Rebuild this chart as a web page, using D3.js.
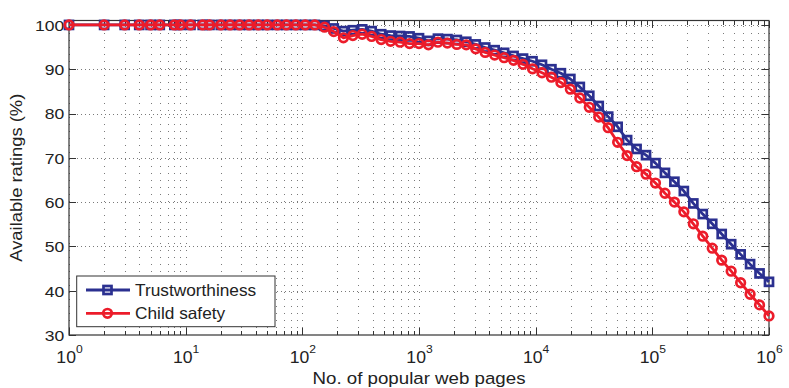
<!DOCTYPE html>
<html><head><meta charset="utf-8">
<script src="https://cdn.jsdelivr.net/npm/d3@7"></script>
<style>body{margin:0;background:#fff} svg{display:block}</style>
</head><body><svg id="c" width="789" height="388"></svg>
<script>
// ---- data ----
const pages = [1,2,3,4,5,6,8,9,11,14,16,20,24,29,35,42,50,61,73,88,106,128,
  155,186,225,271,326,393,474,571,688,830,1000,1205,1453,1751,2110,2543,3065,3694,
  4452,5366,6467,7795,9397,11330,13650,16450,19830,23900,28810,34720,41840,50430,
  60780,73260,88300,106400,128300,154600,186300,224600,270600,326200,393200,473900,
  571200,688400,829700,1000000];
const trustworthiness = [100,100,100,100,100,100,100,100,100,100,100,100,100,100,100,100,100,100,100,100,100,100,
  99.8,99.2,98.6,98.8,99.0,98.6,97.9,97.6,97.5,97.4,
  97.0,96.4,96.9,96.8,96.6,96.2,95.6,94.9,94.3,93.7,
  93.0,92.4,91.8,91.0,90.0,89.1,87.8,86.0,84.0,81.7,
  79.3,77.0,74.0,72.0,70.6,68.8,66.6,64.6,62.5,59.7,
  57.3,55.1,52.8,50.5,48.2,46.0,43.9,42.0];
const childSafety = [100,100,100,100,100,100,100,100,100,100,100,100,100,100,100,100,100,100,100,100,100,100,
  99.5,98.5,97.1,97.6,97.9,97.4,96.7,96.3,96.1,95.8,
  95.8,95.5,96.1,95.9,95.6,95.5,94.6,93.8,93.2,92.6,
  92.0,91.1,90.1,89.2,88.2,87.0,85.5,83.5,81.4,79.2,
  76.8,73.5,70.5,68.0,66.3,64.3,62.0,60.0,57.8,55.1,
  52.3,49.6,46.9,44.4,41.8,39.2,36.8,34.3];
const seriesNames = ["Trustworthiness", "Child safety"];
const yTicks = [30,40,50,60,70,80,90,100];
const xMajorExponents = [0,1,2,3,4,5,6];
const xLabel = "No. of popular web pages";
const yLabel = "Available ratings (%)";

// ---- layout ----
const L = 69, R = 769, T = 20.5, B = 335;
const font = '"Liberation Sans", Arial, Helvetica, sans-serif';
const blue = "#2b3090", red = "#ec1c2a", axisCol = "#333", gridCol = "#7a7a7a";
const svg = d3.select("#c");
const x = d3.scaleLog().domain([1, 1e6]).range([L, R]);
const y = d3.scaleLinear().domain([30, 101]).range([B, T]);

const majors = xMajorExponents.map(e => Math.pow(10, e));
const minors = [];
xMajorExponents.slice(0, -1).forEach(e => { for (let m = 2; m <= 9; m++) minors.push(m * Math.pow(10, e)); });

// ---- grid ----
const gx = svg.append("g").attr("transform", `translate(0,${B})`)
  .call(d3.axisBottom(x).tickValues(majors.concat(minors)).tickSize(-(B - T)).tickSizeOuter(0).tickFormat(""));
gx.select(".domain").remove();
gx.selectAll("line").attr("stroke", gridCol).attr("stroke-dasharray", "1,6").attr("shape-rendering", "crispEdges");
const gy = svg.append("g").attr("transform", `translate(${L},0)`)
  .call(d3.axisLeft(y).tickValues(yTicks.slice(1)).tickSize(-(R - L)).tickSizeOuter(0).tickFormat(""));
gy.select(".domain").remove();
gy.selectAll("line").attr("stroke", gridCol).attr("stroke-dasharray", "1,3").attr("shape-rendering", "crispEdges");

// ---- axes & ticks ----
function styleAxis(g) {
  g.select(".domain").remove();
  g.selectAll("line").attr("stroke", axisCol).attr("shape-rendering", "crispEdges");
}
const ax = svg.append("g").attr("transform", `translate(0,${B})`)
  .call(d3.axisBottom(x).tickValues(majors).tickSize(-7).tickSizeOuter(0).tickFormat(""));
styleAxis(ax);
ax.selectAll(".tick").append("text")
  .attr("text-anchor", "middle").attr("y", 28.3).attr("transform", "scale(1.1,1)")
  .attr("fill", "#222").style("font-family", font).style("font-size", "16px")
  .each(function(d) {
    const t = d3.select(this);
    t.append("tspan").text("10");
    t.append("tspan").attr("dy", -10).style("font-size", "11px").text(Math.round(Math.log10(d)));
  });
styleAxis(svg.append("g").attr("transform", `translate(0,${B})`)
  .call(d3.axisBottom(x).tickValues(minors).tickSize(-4).tickSizeOuter(0).tickFormat("")));
styleAxis(svg.append("g").attr("transform", `translate(0,${T})`)
  .call(d3.axisTop(x).tickValues(majors).tickSize(-7).tickSizeOuter(0).tickFormat("")));
styleAxis(svg.append("g").attr("transform", `translate(0,${T})`)
  .call(d3.axisTop(x).tickValues(minors).tickSize(-4).tickSizeOuter(0).tickFormat("")));
const ay = svg.append("g").attr("transform", `translate(${L},0)`)
  .call(d3.axisLeft(y).tickValues(yTicks).tickSize(-7).tickSizeOuter(0).tickPadding(4));
styleAxis(ay);
ay.selectAll("text").attr("fill", "#222").attr("dy", null).attr("y", 5.4)
  .attr("transform", "scale(1.17,1)").style("font-family", font).style("font-size", "15px");
styleAxis(svg.append("g").attr("transform", `translate(${R},0)`)
  .call(d3.axisRight(y).tickValues(yTicks).tickSize(-7).tickSizeOuter(0).tickFormat("")));

svg.append("rect").attr("x", L).attr("y", T).attr("width", R - L).attr("height", B - T)
  .attr("fill", "none").attr("stroke", axisCol).attr("stroke-width", 1.2);

// ---- labels ----
svg.append("text").attr("transform", `translate(${(L + R) / 2},384) scale(1.1,1)`)
  .attr("text-anchor", "middle").attr("fill", "#222").style("font-family", font).style("font-size", "17px").text(xLabel);
svg.append("text").attr("transform", `translate(22,${(T + B) / 2}) rotate(-90) scale(1.08,1)`)
  .attr("text-anchor", "middle").attr("fill", "#222").style("font-family", font).style("font-size", "17px").text(yLabel);

// ---- series ----
const line = d3.line().x(d => x(d[0])).y(d => y(d[1]));
const series = [
  { name: seriesNames[0], vals: trustworthiness, color: blue, marker: "square" },
  { name: seriesNames[1], vals: childSafety, color: red, marker: "circle" }
];
function drawMarker(g, type, color, cx, cy) {
  if (type === "square") {
    g.append("rect").attr("x", cx - 4).attr("y", cy - 4).attr("width", 8).attr("height", 8)
      .attr("fill", "none").attr("stroke", color).attr("stroke-width", 2.7);
  } else {
    g.append("circle").attr("cx", cx).attr("cy", cy).attr("r", 4.3)
      .attr("fill", "none").attr("stroke", color).attr("stroke-width", 2.7);
  }
}
series.forEach(s => {
  const pts = pages.map((p, i) => [p, s.vals[i]]);
  const g = svg.append("g");
  g.append("path").datum(pts).attr("d", line).attr("fill", "none")
    .attr("stroke", s.color).attr("stroke-width", 2.8).attr("stroke-linejoin", "round");
  pts.forEach(p => drawMarker(g, s.marker, s.color, x(p[0]), y(p[1])));
});

// ---- legend ----
const lg = svg.append("g");
lg.append("rect").attr("x", 76.7).attr("y", 276).attr("width", 198.3).attr("height", 50.7)
  .attr("fill", "#fff").attr("stroke", axisCol).attr("stroke-width", 1);
series.forEach((s, i) => {
  const cy = 290 + i * 23.3;
  lg.append("line").attr("x1", 86).attr("x2", 130).attr("y1", cy).attr("y2", cy)
    .attr("stroke", s.color).attr("stroke-width", 2.8);
  drawMarker(lg, s.marker, s.color, 107.5, cy);
  lg.append("text").attr("transform", `translate(135,${cy + 6}) scale(1.06,1)`)
    .attr("fill", "#222").style("font-family", font).style("font-size", "16.3px").text(s.name);
});
</script></body></html>
